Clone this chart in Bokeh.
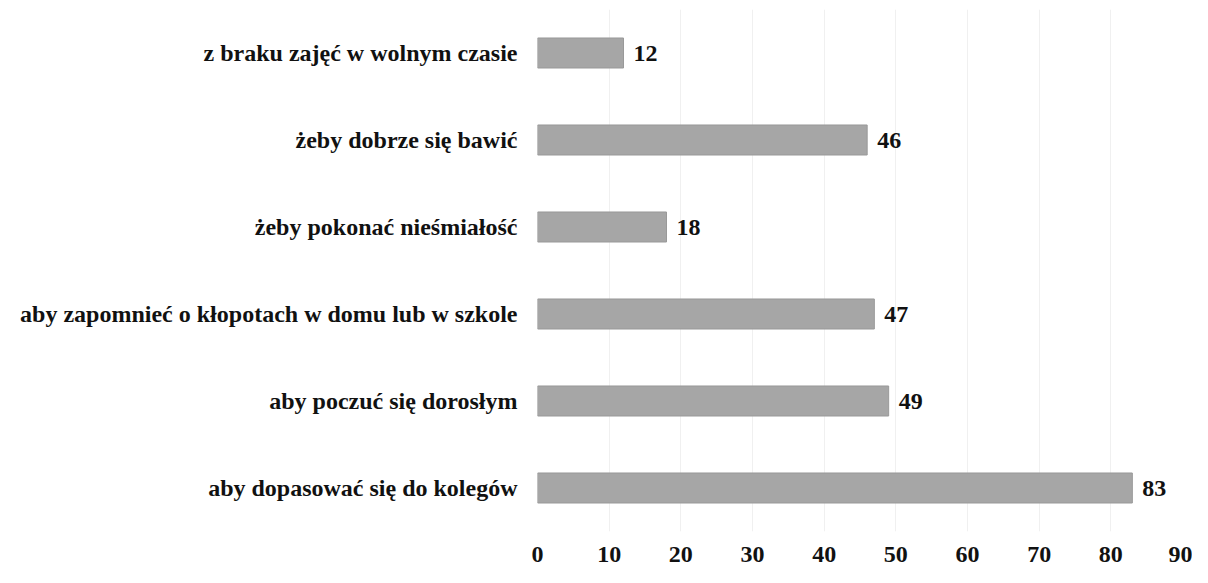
from bokeh.plotting import figure
from bokeh.models import ColumnDataSource, FactorRange, Range1d, FixedTicker
from bokeh.core.properties import value
from bokeh.embed import file_html
from bokeh.resources import INLINE

categories = [
    "aby dopasować się do kolegów",
    "aby poczuć się dorosłym",
    "aby zapomnieć o kłopotach w domu lub w szkole",
    "żeby pokonać nieśmiałość",
    "żeby dobrze się bawić",
    "z braku zajęć w wolnym czasie",
]
values = [83, 49, 47, 18, 46, 12]
x_ticks = [0, 10, 20, 30, 40, 50, 60, 70, 80, 90]

FONT = "Liberation Serif"
src = ColumnDataSource(dict(cat=categories, val=values, lab=[str(v) for v in values]))

p = figure(
    y_range=FactorRange(*categories, range_padding=0),
    x_range=Range1d(0, 90),
    width=1192, height=567,
    output_backend="svg", toolbar_location=None,
    min_border_left=537, min_border_right=10, min_border_top=9, min_border_bottom=36,
)
p.outline_line_color = None
p.background_fill_color = "white"

p.hbar(y="cat", right="val", left=0, height=0.345, source=src,
       fill_color="#a6a6a6", line_color="#999999", line_width=1)

p.text(x="val", y="cat", text="lab", source=src, x_offset=10,
       text_align="left", text_baseline="middle",
       text_font=value(FONT), text_font_style="bold",
       text_font_size="24px", text_color="#111111")

p.xaxis.ticker = FixedTicker(ticks=x_ticks)
for ax in (p.xaxis, p.yaxis):
    ax.axis_line_color = None
    ax.major_tick_line_color = None
    ax.minor_tick_line_color = None
    ax.major_label_text_font = FONT
    ax.major_label_text_font_style = "bold"
    ax.major_label_text_font_size = "24px"
    ax.major_label_text_color = "#111111"
p.xaxis.major_label_standoff = 9
p.yaxis.major_label_standoff = 14

p.xgrid.grid_line_color = "#f0f0f0"
p.ygrid.grid_line_color = None

open("out.html", "w").write(file_html(p, INLINE))
